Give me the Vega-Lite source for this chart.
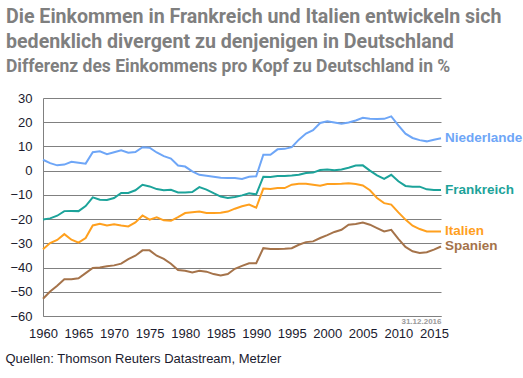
{
  "$schema": "https://vega.github.io/schema/vega-lite/v6.json",
  "width": 398,
  "height": 218,
  "autosize": "none",
  "padding": {"left": 43, "top": 98, "right": 82, "bottom": 62},
  "background": "white",
  "title": {
    "text": ["Die Einkommen in Frankreich und Italien entwickeln sich", "bedenklich divergent zu denjenigen in Deutschland"],
    "subtitle": "Differenz des Einkommens pro Kopf zu Deutschland in %",
    "anchor": "start",
    "frame": "group",
    "dx": -37,
    "offset": 16,
    "font": "Roboto",
    "fontSize": 19.6,
    "fontWeight": "bold",
    "color": "#7f7f7f",
    "lineHeight": 25,
    "subtitleFont": "Roboto",
    "subtitleFontSize": 17.5,
    "subtitleFontWeight": "bold",
    "subtitleColor": "#7f7f7f",
    "subtitlePadding": 5
  },
  "config": {
    "view": {"stroke": null},
    "axis": {"labelFont": "Liberation Sans", "titleFont": "Liberation Sans"}
  },
  "data": {
    "values": [
      {"year": 1960, "Niederlande": 4.5, "Frankreich": -20.2, "Italien": -32.4, "Spanien": -52.9},
      {"year": 1961, "Niederlande": 3.1, "Frankreich": -19.7, "Italien": -29.9, "Spanien": -49.9},
      {"year": 1962, "Niederlande": 2.2, "Frankreich": -18.6, "Italien": -28.6, "Spanien": -47.5},
      {"year": 1963, "Niederlande": 2.5, "Frankreich": -16.7, "Italien": -26.2, "Spanien": -44.8},
      {"year": 1964, "Niederlande": 3.7, "Frankreich": -16.6, "Italien": -28.5, "Spanien": -44.8},
      {"year": 1965, "Niederlande": 3.3, "Frankreich": -16.7, "Italien": -29.7, "Spanien": -44.4},
      {"year": 1966, "Niederlande": 2.9, "Frankreich": -14.6, "Italien": -27.8, "Spanien": -42.3},
      {"year": 1967, "Niederlande": 7.6, "Frankreich": -11.0, "Italien": -22.6, "Spanien": -40.2},
      {"year": 1968, "Niederlande": 8.0, "Frankreich": -12.0, "Italien": -21.9, "Spanien": -40.0},
      {"year": 1969, "Niederlande": 6.8, "Frankreich": -12.1, "Italien": -22.6, "Spanien": -39.5},
      {"year": 1970, "Niederlande": 7.6, "Frankreich": -11.3, "Italien": -22.1, "Spanien": -39.1},
      {"year": 1971, "Niederlande": 8.4, "Frankreich": -9.2, "Italien": -22.6, "Spanien": -38.4},
      {"year": 1972, "Niederlande": 7.4, "Frankreich": -9.2, "Italien": -23.0, "Spanien": -36.5},
      {"year": 1973, "Niederlande": 7.7, "Frankreich": -8.1, "Italien": -21.4, "Spanien": -35.1},
      {"year": 1974, "Niederlande": 9.7, "Frankreich": -5.8, "Italien": -18.5, "Spanien": -32.9},
      {"year": 1975, "Niederlande": 9.5, "Frankreich": -6.5, "Italien": -20.2, "Spanien": -32.9},
      {"year": 1976, "Niederlande": 7.5, "Frankreich": -7.6, "Italien": -19.3, "Spanien": -35.1},
      {"year": 1977, "Niederlande": 6.0, "Frankreich": -8.1, "Italien": -20.5, "Spanien": -36.4},
      {"year": 1978, "Niederlande": 5.0, "Frankreich": -7.9, "Italien": -20.7, "Spanien": -38.4},
      {"year": 1979, "Niederlande": 2.1, "Frankreich": -9.0, "Italien": -19.2, "Spanien": -41.0},
      {"year": 1980, "Niederlande": 1.7, "Frankreich": -9.0, "Italien": -17.5, "Spanien": -41.3},
      {"year": 1981, "Niederlande": -0.3, "Frankreich": -8.8, "Italien": -17.2, "Spanien": -42.0},
      {"year": 1982, "Niederlande": -1.7, "Frankreich": -6.8, "Italien": -16.9, "Spanien": -41.3},
      {"year": 1983, "Niederlande": -2.1, "Frankreich": -7.8, "Italien": -17.5, "Spanien": -41.7},
      {"year": 1984, "Niederlande": -2.5, "Frankreich": -9.3, "Italien": -17.5, "Spanien": -42.7},
      {"year": 1985, "Niederlande": -2.9, "Frankreich": -10.7, "Italien": -17.4, "Spanien": -43.3},
      {"year": 1986, "Niederlande": -3.0, "Frankreich": -11.3, "Italien": -16.9, "Spanien": -42.7},
      {"year": 1987, "Niederlande": -3.0, "Frankreich": -10.9, "Italien": -15.7, "Spanien": -40.5},
      {"year": 1988, "Niederlande": -3.4, "Frankreich": -10.2, "Italien": -14.7, "Spanien": -39.3},
      {"year": 1989, "Niederlande": -2.5, "Frankreich": -9.3, "Italien": -14.0, "Spanien": -38.2},
      {"year": 1990, "Niederlande": -2.3, "Frankreich": -9.8, "Italien": -15.3, "Spanien": -38.2},
      {"year": 1991, "Niederlande": 6.6, "Frankreich": -2.5, "Italien": -7.4, "Spanien": -32.0},
      {"year": 1992, "Niederlande": 6.6, "Frankreich": -2.6, "Italien": -7.6, "Spanien": -32.3},
      {"year": 1993, "Niederlande": 8.8, "Frankreich": -2.2, "Italien": -7.2, "Spanien": -32.3},
      {"year": 1994, "Niederlande": 9.0, "Frankreich": -2.2, "Italien": -7.2, "Spanien": -32.2},
      {"year": 1995, "Niederlande": 9.7, "Frankreich": -2.0, "Italien": -5.8, "Spanien": -32.0},
      {"year": 1996, "Niederlande": 12.8, "Frankreich": -1.7, "Italien": -5.4, "Spanien": -30.6},
      {"year": 1997, "Niederlande": 15.3, "Frankreich": -1.0, "Italien": -5.4, "Spanien": -29.5},
      {"year": 1998, "Niederlande": 16.7, "Frankreich": -0.8, "Italien": -5.8, "Spanien": -29.2},
      {"year": 1999, "Niederlande": 19.7, "Frankreich": 0.3, "Italien": -6.2, "Spanien": -27.8},
      {"year": 2000, "Niederlande": 20.4, "Frankreich": 0.5, "Italien": -5.5, "Spanien": -26.6},
      {"year": 2001, "Niederlande": 19.9, "Frankreich": 0.2, "Italien": -5.5, "Spanien": -25.3},
      {"year": 2002, "Niederlande": 19.4, "Frankreich": 0.5, "Italien": -5.4, "Spanien": -24.4},
      {"year": 2003, "Niederlande": 19.9, "Frankreich": 1.2, "Italien": -5.2, "Spanien": -22.3},
      {"year": 2004, "Niederlande": 20.7, "Frankreich": 2.1, "Italien": -5.5, "Spanien": -22.0},
      {"year": 2005, "Niederlande": 21.8, "Frankreich": 2.2, "Italien": -6.1, "Spanien": -21.4},
      {"year": 2006, "Niederlande": 21.4, "Frankreich": 0.0, "Italien": -8.1, "Spanien": -22.3},
      {"year": 2007, "Niederlande": 21.3, "Frankreich": -1.9, "Italien": -11.3, "Spanien": -23.7},
      {"year": 2008, "Niederlande": 21.4, "Frankreich": -3.4, "Italien": -13.4, "Spanien": -25.1},
      {"year": 2009, "Niederlande": 22.4, "Frankreich": -1.7, "Italien": -14.0, "Spanien": -24.4},
      {"year": 2010, "Niederlande": 18.7, "Frankreich": -4.4, "Italien": -17.2, "Spanien": -28.2},
      {"year": 2011, "Niederlande": 15.3, "Frankreich": -6.3, "Italien": -20.2, "Spanien": -31.5},
      {"year": 2012, "Niederlande": 13.5, "Frankreich": -6.6, "Italien": -22.7, "Spanien": -33.3},
      {"year": 2013, "Niederlande": 12.6, "Frankreich": -6.6, "Italien": -24.1, "Spanien": -34.0},
      {"year": 2014, "Niederlande": 12.1, "Frankreich": -7.7, "Italien": -25.1, "Spanien": -33.7},
      {"year": 2015, "Niederlande": 12.8, "Frankreich": -8.0, "Italien": -25.1, "Spanien": -32.6},
      {"year": 2016, "Niederlande": 13.4, "Frankreich": -8.0, "Italien": -25.1, "Spanien": -31.3}
    ]
  },
  "transform": [
    {"fold": ["Niederlande", "Frankreich", "Italien", "Spanien"], "as": ["country", "value"]}
  ],
  "encoding": {
    "x": {
      "field": "year",
      "type": "quantitative",
      "scale": {"domain": [1960, 2016], "nice": false, "zero": false},
      "axis": {
        "values": [1960, 1965, 1970, 1975, 1980, 1985, 1990, 1995, 2000, 2005, 2010, 2015],
        "format": "d",
        "grid": false,
        "domain": true,
        "domainColor": "#808080",
        "ticks": false,
        "labelFontSize": 13,
        "labelColor": "#1a1a2e",
        "labelPadding": 11,
        "labelFlush": false,
        "title": "Quellen: Thomson Reuters Datastream, Metzler",
        "titleAnchor": "start",
        "titleAlign": "left",
        "titleX": -38,
        "titleY": 46,
        "titleBaseline": "alphabetic",
        "titleFontSize": 13,
        "titleFontWeight": "normal",
        "titleColor": "#1a1a2e"
      }
    },
    "y": {
      "field": "value",
      "type": "quantitative",
      "scale": {"domain": [-60, 30], "nice": false},
      "axis": {
        "values": [-60, -50, -40, -30, -20, -10, 0, 10, 20, 30],
        "grid": true,
        "gridColor": "#808080",
        "gridWidth": 1,
        "gridOpacity": 1,
        "domain": true,
        "domainColor": "#808080",
        "ticks": false,
        "labelFontSize": 13,
        "labelColor": "#1a1a2e",
        "labelPadding": 11,
        "title": "31.12.2016",
        "titleAngle": 0,
        "titleX": 398,
        "titleY": 225,
        "titleAlign": "right",
        "titleBaseline": "alphabetic",
        "titleFontSize": 8,
        "titleFontWeight": "bold",
        "titleColor": "#9a9a9a"
      }
    },
    "color": {
      "field": "country",
      "type": "nominal",
      "scale": {
        "domain": ["Niederlande", "Frankreich", "Italien", "Spanien"],
        "range": ["#6ea6f7", "#1ca39a", "#ffa01e", "#a5734a"]
      },
      "legend": null
    }
  },
  "layer": [
    {"mark": {"type": "line", "strokeWidth": 2, "interpolate": "linear"}, "encoding": {"detail": {"field": "country"}}},
    {
      "transform": [{"filter": "datum.year == 2016"}],
      "mark": {"type": "text", "align": "left", "baseline": "middle", "dx": 4, "fontSize": 13.5, "fontWeight": "bold", "font": "Liberation Sans"},
      "encoding": {
        "text": {"field": "country"},
        "yOffset": {"condition": {"test": "datum.country == 'Spanien'", "value": 3}, "value": 0}
      }
    }
  ]
}
